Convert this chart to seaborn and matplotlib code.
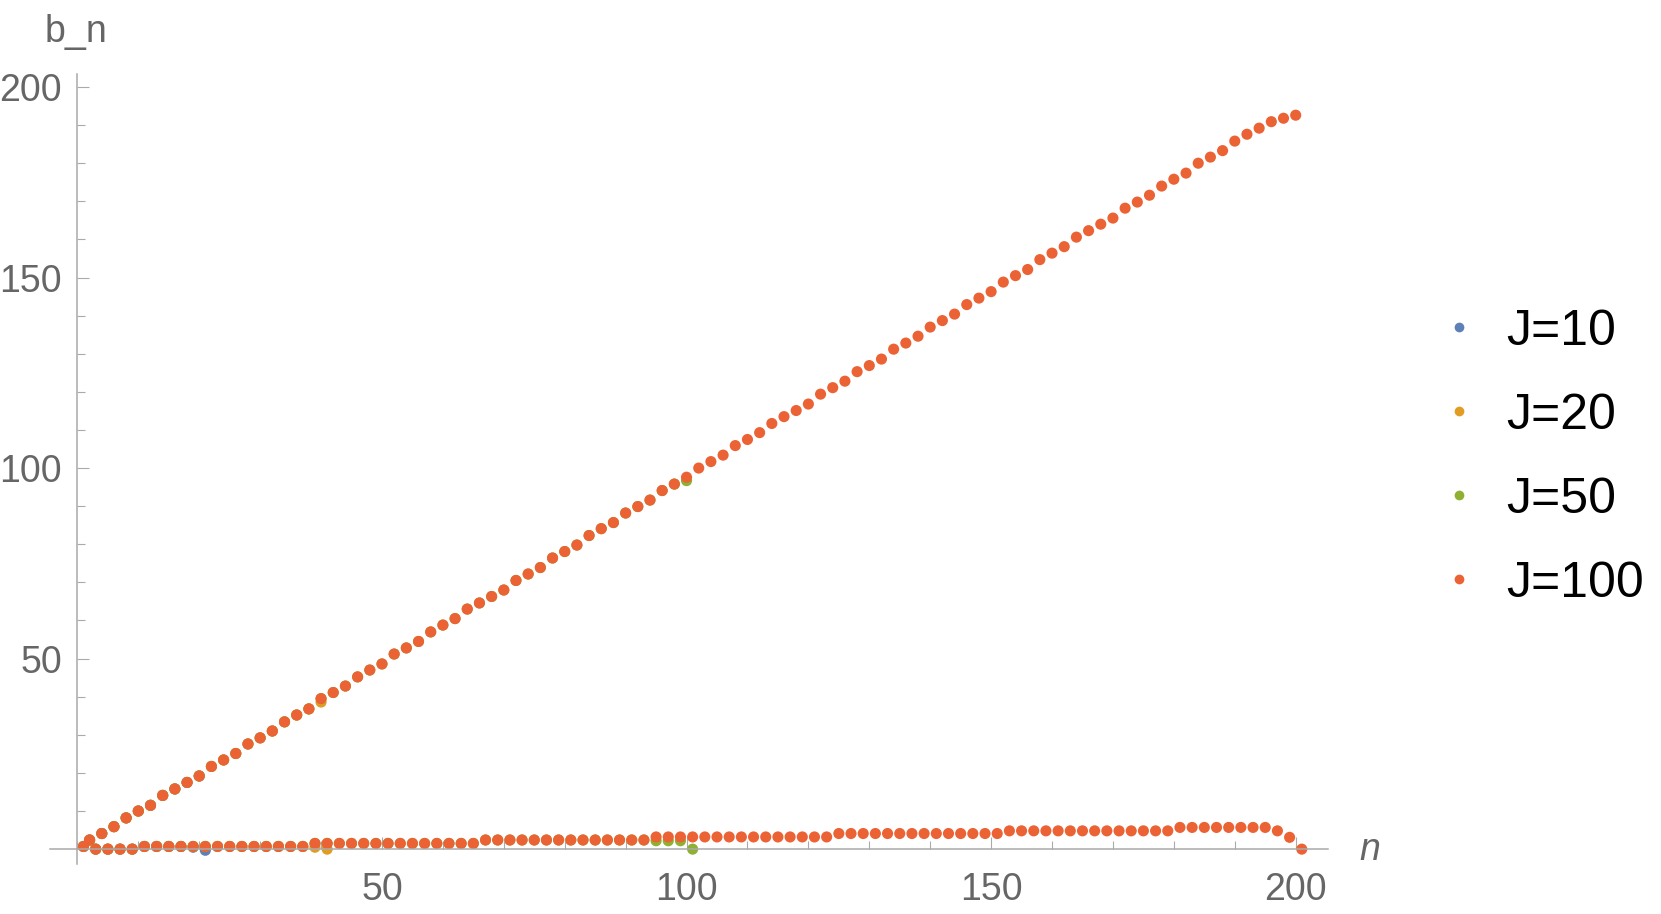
import numpy as np
import pandas as pd
import matplotlib
matplotlib.use('Agg')
import matplotlib.pyplot as plt
from matplotlib.ticker import MultipleLocator, FixedLocator
import seaborn as sns

sns.set_style('white')
plt.rcParams['font.family'] = ['Liberation Sans', 'DejaVu Sans']

# b_n values, in order n = 1, 2, 3, ...
b_j100 = [0.7, 2.4, 0, 4.1, 0, 5.9, 0, 8.2, 0, 10.0,
          0.7, 11.5, 0.7, 14.1, 0.7, 15.8, 0.7, 17.5, 0.7, 19.2,
          0.7, 21.7, 0.7, 23.4, 0.7, 25.1, 0.7, 27.6, 0.7, 29.2,
          0.7, 31.0, 0.7, 33.4, 0.7, 35.2, 0.7, 36.8, 1.5, 39.5,
          1.5, 41.1, 1.5, 42.8, 1.5, 45.2, 1.5, 47.0, 1.5, 48.6,
          1.5, 51.2, 1.5, 52.8, 1.5, 54.5, 1.5, 57.0, 1.5, 58.8,
          1.5, 60.5, 1.5, 63.0, 1.5, 64.6, 2.4, 66.3, 2.4, 68.0,
          2.4, 70.5, 2.4, 72.2, 2.4, 73.9, 2.4, 76.4, 2.4, 78.1,
          2.4, 79.8, 2.4, 82.3, 2.4, 84.1, 2.4, 85.7, 2.4, 88.2,
          2.4, 89.9, 2.4, 91.6, 3.2, 94.1, 3.2, 95.8, 3.2, 97.6,
          3.2, 100.0, 3.2, 101.7, 3.2, 103.4, 3.2, 105.9, 3.2, 107.5,
          3.2, 109.3, 3.2, 111.7, 3.2, 113.5, 3.2, 115.1, 3.2, 116.8,
          3.2, 119.4, 3.2, 121.1, 4.1, 122.8, 4.1, 125.3, 4.1, 126.9,
          4.1, 128.6, 4.1, 131.2, 4.1, 132.8, 4.1, 134.6, 4.1, 137.0,
          4.1, 138.7, 4.1, 140.4, 4.1, 142.9, 4.1, 144.6, 4.1, 146.3,
          4.1, 148.8, 4.8, 150.5, 4.8, 152.1, 4.8, 154.7, 4.8, 156.4,
          4.8, 158.1, 4.8, 160.6, 4.8, 162.3, 4.8, 164.0, 4.8, 165.6,
          4.8, 168.2, 4.8, 169.8, 4.8, 171.6, 4.8, 174.0, 4.8, 175.8,
          5.7, 177.4, 5.7, 180.0, 5.7, 181.6, 5.7, 183.3, 5.7, 185.8,
          5.7, 187.6, 5.7, 189.2, 5.7, 190.9, 4.8, 191.8, 3.1, 192.6,
          0]

b_j50 = [0.7, 2.4, 0, 4.1, 0, 5.9, 0, 8.2, 0, 10.0,
         0.7, 11.5, 0.7, 14.1, 0.7, 15.8, 0.7, 17.5, 0.7, 19.2,
         0.7, 21.7, 0.7, 23.4, 0.7, 25.1, 0.7, 27.6, 0.7, 29.2,
         0.7, 31.0, 0.7, 33.4, 0.7, 35.2, 0.7, 36.8, 1.5, 39.5,
         1.5, 41.1, 1.5, 42.8, 1.5, 45.2, 1.5, 47.0, 1.5, 48.6,
         1.5, 51.2, 1.5, 52.8, 1.5, 54.5, 1.5, 57.0, 1.5, 58.8,
         1.5, 60.5, 1.5, 63.0, 1.5, 64.6, 2.4, 66.3, 2.4, 68.0,
         2.4, 70.5, 2.4, 72.2, 2.4, 73.9, 2.4, 76.4, 2.4, 78.1,
         2.4, 79.8, 2.4, 82.3, 2.4, 84.1, 2.4, 85.7, 2.4, 88.2,
         2.4, 89.9, 2.4, 91.6, 2.2, 94.1, 2.2, 95.8, 2.2, 96.7,
         0]

b_j20 = [0.7, 2.4, 0, 4.1, 0, 5.9, 0, 8.2, 0, 10.0,
         0.7, 11.5, 0.7, 14.1, 0.7, 15.8, 0.7, 17.5, 0.7, 19.2,
         0.7, 21.7, 0.7, 23.4, 0.7, 25.1, 0.7, 27.6, 0.7, 29.2,
         0.7, 31.0, 0.7, 33.4, 0.7, 35.2, 0.7, 36.8, 0.5, 38.6,
         0]

b_j10 = [0.7, 2.4, 0, 4.1, 0, 5.9, 0, 8.2, 0, 10.0,
         0.7, 11.5, 0.7, 14.1, 0.7, 15.8, 0.7, 17.5, 0.5, 19.2,
         -0.3]

labels = ['J=10', 'J=20', 'J=50', 'J=100']
colors = ['#5e81b5', '#e19c24', '#8fb032', '#eb6235']
series = [b_j10, b_j20, b_j50, b_j100]

frames = []
for lab, vals in zip(labels, series):
    frames.append(pd.DataFrame({'n': np.arange(1, len(vals) + 1), 'b': vals, 'J': lab}))
df = pd.concat(frames, ignore_index=True)

axis_col = '#aaaaaa'
text_col = '#666666'

fig = plt.figure(figsize=(16.61, 9.14), dpi=100)
ax = fig.add_axes([0.0301, 0.0547, 0.7694, 0.8643])

sns.scatterplot(data=df, x='n', y='b', hue='J', hue_order=labels, palette=colors,
                s=64, linewidth=0, edgecolor='none', ax=ax)

ax.set_xlim(-4.5, 205.3)
ax.set_ylim(-3.9, 203.4)
for side in ['top', 'right']:
    ax.spines[side].set_visible(False)
ax.spines['left'].set_position(('data', 0))
ax.spines['bottom'].set_position(('data', 0))
for side in ['left', 'bottom']:
    ax.spines[side].set_color(axis_col)
    ax.spines[side].set_linewidth(1.1)

ax.xaxis.set_major_locator(FixedLocator([50, 100, 150, 200]))
ax.yaxis.set_major_locator(FixedLocator([50, 100, 150, 200]))
ax.xaxis.set_minor_locator(MultipleLocator(10))
ax.yaxis.set_minor_locator(MultipleLocator(10))
ax.tick_params(which='both', direction='in', color=axis_col, width=0.8,
               bottom=True, left=True)
ax.tick_params(which='major', length=8.6)
ax.tick_params(which='minor', length=5.8)
ax.tick_params(axis='x', which='major', labelsize=27, labelcolor=text_col, pad=16.5)
ax.tick_params(axis='y', which='major', labelsize=27, labelcolor=text_col, pad=11)

ax.set_xlabel('n', fontsize=27, color=text_col, style='italic')
ax.xaxis.set_label_coords(1.033, 0.005)
ax.xaxis.label.set_va('baseline')
ax.set_ylabel('b_n', fontsize=27, color=text_col, rotation=0)
ax.yaxis.set_label_coords(0.0207, 1.0409)
ax.yaxis.label.set_ha('center')
ax.yaxis.label.set_va('baseline')
ax.grid(False)

handles, labs = ax.get_legend_handles_labels()
ax.get_legend().remove()
leg = fig.legend(handles, labs, loc='center left', bbox_to_anchor=(0.8709, 0.499),
                 frameon=False, fontsize=36, handlelength=0.5, handletextpad=0.69,
                 borderpad=0, borderaxespad=0, labelspacing=0.76, labelcolor='black')
for h in leg.legend_handles:
    try:
        h.set_markersize(7)
    except AttributeError:
        h.set_sizes([49])

fig.savefig('out.png', dpi=100)
